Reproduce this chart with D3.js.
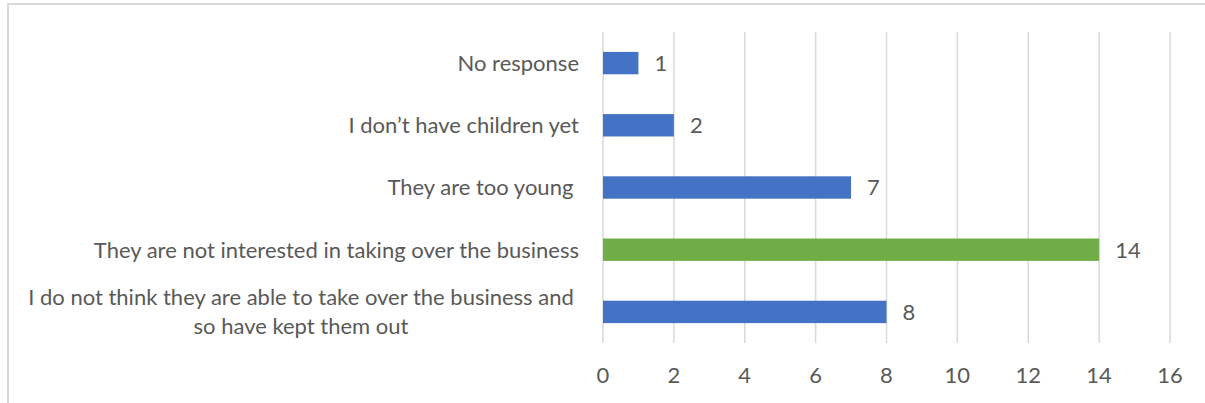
<!DOCTYPE html>
<html>
<head>
<meta charset="utf-8">
<script src="https://cdn.jsdelivr.net/npm/d3@7"></script>
<style>
  body { margin: 0; background: #fff; }
  svg text { font-family: Lato, "Open Sans", sans-serif; fill: #595959; white-space: pre; font-size: 22px; }
</style>
</head>
<body>
<div id="chart"></div>
<script>
// categories top to bottom
const categories = [
  'No response',
  'I don\u2019t have children yet',
  'They are too young ',
  'They are not interested in taking over the business',
  'I do not think they are able to take over the business and\nso have kept them out'
]
const values = [1, 2, 7, 14, 8]
const barColors = ['#4472c4', '#4472c4', '#4472c4', '#70ad47', '#4472c4']
const xTicks = [0, 2, 4, 6, 8, 10, 12, 14, 16]

const width = 1205
const height = 403
const margins = { top: 32, right: 35, bottom: 60, left: 603 }

const svg = d3.select('#chart').append('svg')
  .attr('width', width)
  .attr('height', height)

// chart area border (light grey, runs off right/bottom)
svg.append('rect')
  .attr('x', 8).attr('y', 4)
  .attr('width', width + 10).attr('height', height + 10)
  .attr('fill', 'none')
  .attr('stroke', '#d9d9d9')
  .attr('stroke-width', 2)

const xScale = d3.scaleLinear()
  .domain([0, 16])
  .range([margins.left, width - margins.right])

const yScale = d3.scaleBand()
  .domain(categories)
  .range([margins.top, height - margins.bottom])
  .paddingInner(0.64)
  .paddingOuter(0.32)

// gridlines
svg.append('g')
  .selectAll('line')
  .data(xTicks)
  .join('line')
  .attr('x1', d => xScale(d))
  .attr('x2', d => xScale(d))
  .attr('y1', margins.top)
  .attr('y2', height - margins.bottom)
  .attr('stroke', '#d9d9d9')
  .attr('stroke-width', 1.5)

// bars
svg.append('g')
  .selectAll('rect')
  .data(values)
  .join('rect')
  .attr('x', xScale(0))
  .attr('y', (d, i) => yScale(categories[i]))
  .attr('width', d => xScale(d) - xScale(0))
  .attr('height', yScale.bandwidth())
  .attr('fill', (d, i) => barColors[i])

// value labels
svg.append('g')
  .selectAll('text')
  .data(values)
  .join('text')
  .attr('x', d => xScale(d) + 16)
  .attr('y', (d, i) => yScale(categories[i]) + yScale.bandwidth() / 2)
  .attr('dy', '0.36em')
  .text(d => d)

// category labels
const catLabels = svg.append('g')
  .selectAll('text')
  .data(categories)
  .join('text')
  .attr('y', d => yScale(d) + yScale.bandwidth() / 2)

catLabels.each(function (d) {
  const lines = d.split('\n')
  const t = d3.select(this)
  if (lines.length === 1) {
    t.attr('x', 579).attr('text-anchor', 'end').attr('dy', '0.36em').text(d)
  } else {
    t.attr('text-anchor', 'middle')
    lines.forEach((ln, k) => {
      t.append('tspan')
        .attr('x', 301)
        .attr('dy', k === 0 ? -6.5 : 29)
        .text(ln)
    })
  }
})

// x axis tick labels
svg.append('g')
  .selectAll('text')
  .data(xTicks)
  .join('text')
  .attr('x', d => xScale(d))
  .attr('y', 375)
  .attr('dy', '0.36em')
  .attr('text-anchor', 'middle')
  .text(d => d)
</script>
</body>
</html>
